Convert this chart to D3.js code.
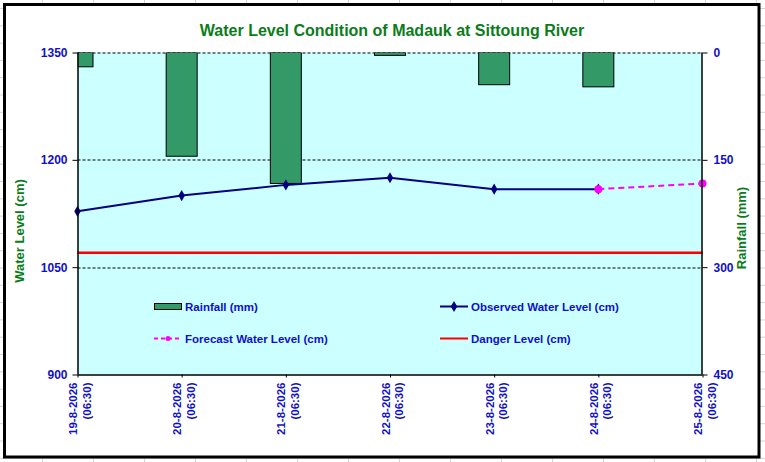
<!DOCTYPE html>
<html>
<head>
<meta charset="utf-8">
<script src="https://cdn.jsdelivr.net/npm/d3@7"></script>
<style>
  body { margin: 0; background: #fff; }
  text { font-family: "Liberation Sans", Arial, sans-serif; font-weight: bold; }
</style>
</head>
<body>
<div id="chart"></div>
<script>
// chart data
const dates = ["19-8-2026", "20-8-2026", "21-8-2026", "22-8-2026", "23-8-2026", "24-8-2026", "25-8-2026"];
const timeLabel = "(06:30)";
const rainfall = [20, 145, 183, 4, 45, 48, 0];
const observed = [1128, 1150, 1165, 1175, 1159, 1159, null];
const forecast = [null, null, null, null, null, 1159, 1167];
const dangerLevel = 1070;
const levelTicks = [900, 1050, 1200, 1350];
const rainTicks = [0, 150, 300, 450];

const W = 765, H = 462;
const margin = { top: 52.5, right: 62.5, bottom: 87.5, left: 77.5 };
const width = W - margin.left - margin.right;
const height = H - margin.top - margin.bottom;

const blue = "#1010c8", green = "#0a7d1a";

const svg = d3.select("#chart").append("svg")
  .attr("width", W).attr("height", H);

// faint spreadsheet grid behind the chart object
const sheet = svg.append("g").attr("stroke", "#d4d4d4").attr("stroke-width", 1);
for (let gx = 42.5; gx < W; gx += 51) {
  sheet.append("line").attr("x1", gx).attr("x2", gx).attr("y1", 0).attr("y2", H);
}
for (let gy = 8.5; gy < H; gy += 17.3) {
  sheet.append("line").attr("x1", 0).attr("x2", W).attr("y1", gy).attr("y2", gy);
}

// chart frame
svg.append("rect")
  .attr("x", 4.5).attr("y", 4.5).attr("width", 754.5).attr("height", 452.5)
  .attr("fill", "#fff").attr("stroke", "#000").attr("stroke-width", 3);

svg.append("text")
  .attr("x", 392).attr("y", 36)
  .attr("text-anchor", "middle")
  .attr("fill", green).attr("font-size", 16)
  .text("Water Level Condition of Madauk at Sittoung River");

const g = svg.append("g").attr("transform", `translate(${margin.left},${margin.top})`);

// scales
const x = d3.scalePoint().domain(dates).range([0, width]);
const y = d3.scaleLinear().domain([900, 1350]).range([height, 0]);
const yRain = d3.scaleLinear().domain([0, 450]).range([0, height]);

// plot background
g.append("rect").attr("width", width).attr("height", height).attr("fill", "#ccffff");

g.append("clipPath").attr("id", "plotclip")
  .append("rect").attr("width", width).attr("height", height);

// gridlines
g.selectAll(".grid").data(levelTicks.filter(d => d > 900)).join("line")
  .attr("x1", 0).attr("x2", width)
  .attr("y1", d => Math.round(y(d)) + 0.5).attr("y2", d => Math.round(y(d)) + 0.5)
  .attr("stroke", "#000").attr("stroke-width", 1).attr("stroke-dasharray", "3,2");

// rainfall bars hanging from the top
const barW = 31;
g.append("g").attr("clip-path", "url(#plotclip)")
  .selectAll("rect").data(dates.map((d, i) => ({ d, v: rainfall[i] })).filter(o => o.v > 0))
  .join("rect")
  .attr("x", o => x(o.d) - barW / 2)
  .attr("y", 0)
  .attr("width", barW)
  .attr("height", o => yRain(o.v))
  .attr("fill", "#339966").attr("stroke", "#000").attr("stroke-width", 1);

// danger level
g.append("line")
  .attr("x1", 0).attr("x2", width)
  .attr("y1", y(dangerLevel)).attr("y2", y(dangerLevel))
  .attr("stroke", "#ff0000").attr("stroke-width", 2.5);

// observed water level
const line = d3.line().defined(d => d.v != null).x(d => x(d.d)).y(d => y(d.v));
const obsData = dates.map((d, i) => ({ d, v: observed[i] }));
const fcData = dates.map((d, i) => ({ d, v: forecast[i] }));

g.append("path").datum(obsData).attr("d", line)
  .attr("fill", "none").attr("stroke", "#000080").attr("stroke-width", 2);
const diamond = d3.symbol().type(d3.symbolDiamond).size(36);
g.selectAll(".obs").data(obsData.filter(d => d.v != null)).join("path")
  .attr("transform", d => `translate(${x(d.d)},${y(d.v)})`)
  .attr("d", diamond).attr("fill", "#000080");

// forecast water level
g.append("path").datum(fcData).attr("d", line)
  .attr("fill", "none").attr("stroke", "#ff00ff").attr("stroke-width", 2)
  .attr("stroke-dasharray", "6,4");
g.selectAll(".fc").data(fcData.filter(d => d.v != null)).join("circle")
  .attr("cx", d => x(d.d)).attr("cy", d => y(d.v)).attr("r", 4)
  .attr("fill", "#ff00ff");

// axes
const yAxisL = g.append("g")
  .call(d3.axisLeft(y).tickValues(levelTicks).tickFormat(d3.format("d")).tickSize(5).tickPadding(5));
const yAxisR = g.append("g").attr("transform", `translate(${width},0)`)
  .call(d3.axisRight(yRain).tickValues(rainTicks).tickFormat(d3.format("d")).tickSize(5).tickPadding(6));
const xAxis = g.append("g").attr("transform", `translate(0,${height})`)
  .call(d3.axisBottom(x).tickSize(3).tickFormat(""));

[yAxisL, yAxisR, xAxis].forEach(a => {
  a.select(".domain").attr("stroke", "#000").attr("stroke-width", 1.5);
  a.selectAll(".tick line").attr("stroke", "#000");
  a.selectAll(".tick text").attr("fill", blue).attr("font-size", 12)
    .attr("font-family", "'Liberation Sans', Arial, sans-serif").attr("font-weight", "bold");
});
yAxisL.select(".domain").attr("d", `M0.5,0V${height}`);
yAxisR.select(".domain").attr("d", `M-0.5,0V${height}`);
xAxis.select(".domain").attr("d", `M0,0.5H${width}`);

// rotated date labels
const xl = g.append("g").selectAll("g").data(dates).join("g")
  .attr("transform", d => `translate(${x(d)},${height + 8}) rotate(-90)`);
xl.append("text").attr("text-anchor", "end").attr("y", -0.5)
  .attr("fill", blue).attr("font-size", 11.5).text(d => d);
xl.append("text").attr("text-anchor", "end").attr("y", 13)
  .attr("fill", blue).attr("font-size", 11.5).text(timeLabel);

// axis titles
svg.append("text")
  .attr("transform", "translate(24,231) rotate(-90)")
  .attr("text-anchor", "middle").attr("fill", green).attr("font-size", 13)
  .text("Water Level (cm)");
svg.append("text")
  .attr("transform", "translate(746,228) rotate(-90)")
  .attr("text-anchor", "middle").attr("fill", green).attr("font-size", 13)
  .text("Rainfall (mm)");

// legend
const legend = [
  { label: "Rainfall (mm)", kind: "bar", lx: 154, ly: 306.5 },
  { label: "Observed Water Level (cm)", kind: "obs", lx: 440, ly: 306.5 },
  { label: "Forecast Water Level (cm)", kind: "fc", lx: 154, ly: 338.5 },
  { label: "Danger Level (cm)", kind: "danger", lx: 440, ly: 338.5 }
];
const lg = svg.append("g").selectAll("g").data(legend).join("g")
  .attr("transform", d => `translate(${d.lx},${d.ly})`);
lg.each(function (d) {
  const s = d3.select(this);
  if (d.kind === "bar") {
    s.append("rect").attr("x", 0.5).attr("y", -3).attr("width", 27).attr("height", 6)
      .attr("fill", "#339966").attr("stroke", "#000").attr("stroke-width", 1);
  } else if (d.kind === "obs") {
    s.append("line").attr("x1", 0).attr("x2", 28).attr("stroke", "#000080").attr("stroke-width", 2);
    s.append("path").attr("transform", "translate(14,0)").attr("d", diamond).attr("fill", "#000080");
  } else if (d.kind === "fc") {
    s.append("line").attr("x1", 0).attr("x2", 28).attr("stroke", "#ff00ff").attr("stroke-width", 2)
      .attr("stroke-dasharray", "4,3");
    s.append("circle").attr("cx", 14).attr("r", 2.5).attr("fill", "#ff00ff");
  } else {
    s.append("line").attr("x1", 0).attr("x2", 28).attr("stroke", "#ff0000").attr("stroke-width", 2);
  }
  s.append("text").attr("x", 31).attr("y", 4.5)
    .attr("fill", blue).attr("font-size", 11.5).text(d.label);
});
</script>
</body>
</html>
